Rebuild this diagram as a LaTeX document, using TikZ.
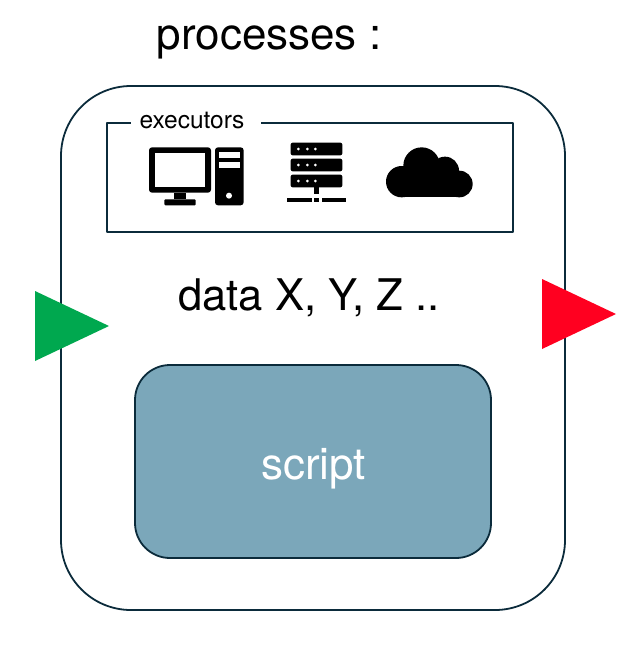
\documentclass[tikz,border=0pt]{standalone}
\usepackage{fontspec}
\setmainfont{TeX Gyre Heros}
\definecolor{linecol}{HTML}{0B2B3B}
\definecolor{scriptcol}{HTML}{7BA7BA}
\definecolor{ingreen}{HTML}{00A84F}
\definecolor{outred}{HTML}{FF0020}
\tikzset{
    box/.style={draw=linecol,line width=1.8pt,inner sep=0pt},
    title/.style={font=\fontsize{44}{48}\selectfont,inner sep=0pt,anchor=base},
    icon/.style={fill=black,draw=none},
    slot/.style={fill=white,draw=none}
}
\begin{document}
\begin{tikzpicture}[x=1pt,y=-1pt,line join=round]
    \useasboundingbox (0,0) rectangle (642,653);
    % process box and its contents
    \node (process) at (313,348) [box,rounded corners=70pt,minimum width=504pt,minimum height=524pt]{};
    \node (frame) at (310,177.5) [box,minimum width=406pt,minimum height=109pt]{};
    \node (execlabel) at (196,120.5) [fill=white,inner sep=0pt,minimum width=130pt,minimum height=16pt]{};
    \node (exectext) at (192,128) [anchor=base,inner sep=0pt,font=\fontsize{24.5}{26}\selectfont]{executors};
    \node (script) at (313,461.5) [box,fill=scriptcol,rounded corners=35pt,minimum width=356pt,minimum height=193pt]{};
    \node (scripttext) at (313.5,479) [title,text=white]{script};
    \node (heading) at (269,49) [title]{processes :};
    \node (data) at (309,310) [title,font=\fontsize{43.6}{48}\selectfont]{data X, Y, Z ..};
    % input and output
    \fill[ingreen] (35,291)--(109,326)--(35,361)--cycle;
    \fill[outred] (542,279)--(616,314)--(542,349)--cycle;
    % computer
    \begin{scope}[shift={(130,105)},x=1/3*1pt,y=-1/3*1pt]
        \fill[icon,rounded corners=3pt] (57,127) rectangle (243,263);
        \fill[slot] (76,145) rectangle (224,245);
        \fill[icon] (133,263) rectangle (167,283);
        \fill[icon,rounded corners=1pt] (103,283) rectangle (197,301);
        \fill[icon,rounded corners=3pt] (255,127) rectangle (341,301);
        \fill[slot] (268,140) rectangle (329,158);
        \fill[slot] (268,171) rectangle (329,189);
        \fill[slot] (297,272) circle (9);
    % server
        \foreach \ytop in {113,161,209}{
            \fill[icon,rounded corners=2pt] (482,\ytop) rectangle (637,\ytop+38);
            \foreach \xdot in {505,532,556}
                \fill[slot] (\xdot,\ytop+19) circle (4.5);
        }
        \fill[icon] (553,247) rectangle (567,268);
        \fill[icon] (472,278) rectangle (545,292);
        \fill[icon] (552,278) rectangle (567,292);
        \fill[icon] (576,278) rectangle (647,292);
    % cloud
        \fill[icon] (875,182) circle (55);
        \fill[icon] (945,197) circle (42);
        \fill[icon] (815,230) circle (47);
        \fill[icon] (988,237) circle (40);
        \fill[icon] (815,215) rectangle (988,277);
    \end{scope}
\end{tikzpicture}
\end{document}
